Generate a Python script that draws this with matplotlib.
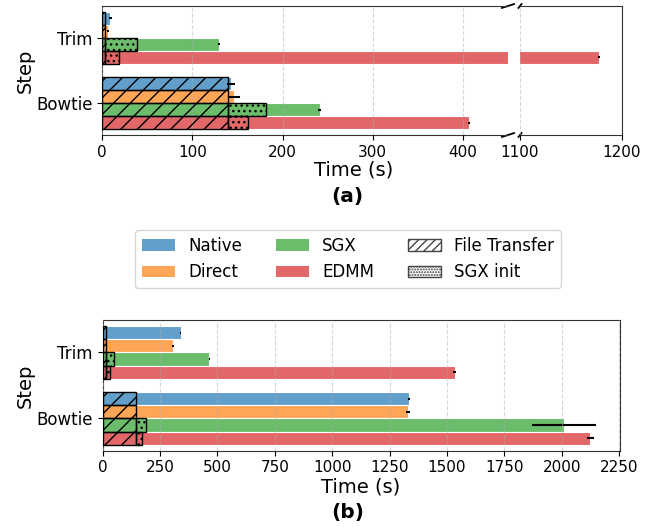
import matplotlib
matplotlib.use("Agg")
import matplotlib.pyplot as plt
from matplotlib.patches import Patch
from matplotlib.ticker import MultipleLocator
from matplotlib.colors import to_rgba

configs = ['Native', 'Direct', 'SGX', 'EDMM']
colors = ['#1f77b4', '#ff7f0e', '#2ca02c', '#d62728']
steps = ['Bowtie', 'Trim']

# Panel (a)
a_trim_total = [9, 6, 129, 1178]
a_trim_err = [1.5, 1, 1, 1]
a_trim_ft = [3.5, 3, 3, 3]
a_trim_init = [0, 0, 36, 16]
a_bowtie_total = [143, 146, 241, 407]
a_bowtie_err = [4.5, 7, 1.5, 1]
a_bowtie_ft = [139, 139, 139, 139]
a_bowtie_init = [0, 0, 42.5, 22.5]

# Panel (b)
b_trim_total = [340, 307, 464, 1533]
b_trim_err = [3, 3, 3, 5]
b_trim_ft = [14, 14, 13, 13]
b_trim_init = [0, 0, 38, 19]
b_bowtie_total = [1333, 1330, 2009, 2124]
b_bowtie_err = [5, 9, 140, 16]
b_bowtie_ft = [147, 147, 147, 147]
b_bowtie_init = [0, 0, 42, 23]

a_ticks_left = [0, 100, 200, 300, 400]
a_ticks_right = [1100, 1200]

offsets = [0.3, 0.1, -0.1, -0.3]
H = 0.2

W, Hh = 667, 527
fig = plt.figure(figsize=(6.67, 5.27), dpi=100)


def rect(x0, y_top, x1, y_bot):
    return [x0 / W, 1 - y_bot / Hh, (x1 - x0) / W, (y_bot - y_top) / Hh]


axL = fig.add_axes(rect(102.3, 6, 508, 135))
axR = fig.add_axes(rect(520, 6, 621.7, 135))
axB = fig.add_axes(rect(102.7, 320, 620.3, 450.7))


def draw(ax, data):
    for yi, (tot, err, ft, init) in enumerate(data):
        for i in range(len(configs)):
            y = yi + offsets[i]
            ax.barh(y, tot[i], height=H, color=to_rgba(colors[i], 0.7),
                    edgecolor='white', linewidth=0.8,
                    xerr=err[i], error_kw=dict(ecolor='black', elinewidth=1.5, capsize=0),
                    zorder=2)
            ax.barh(y, ft[i], height=H, fill=False, hatch='//',
                    edgecolor='black', linewidth=1.0, zorder=3)
            if init[i] > 0:
                ax.barh(y, init[i], left=ft[i], height=H, fill=False, hatch='...',
                        edgecolor='black', linewidth=1.0, zorder=3)


a_data = [(a_bowtie_total, a_bowtie_err, a_bowtie_ft, a_bowtie_init),
          (a_trim_total, a_trim_err, a_trim_ft, a_trim_init)]
b_data = [(b_bowtie_total, b_bowtie_err, b_bowtie_ft, b_bowtie_init),
          (b_trim_total, b_trim_err, b_trim_ft, b_trim_init)]

for ax in (axL, axR):
    draw(ax, a_data)
draw(axB, b_data)

axL.set_xlim(0, 450)
axR.set_xlim(1100, 1200)
axL.set_xticks(a_ticks_left)
axR.set_xticks(a_ticks_right)
axB.set_xlim(0, 2255)
axB.xaxis.set_major_locator(MultipleLocator(250))

for ax in (axL, axR, axB):
    ax.grid(axis='x', linestyle='--', color='#b0b0b0', alpha=0.5, linewidth=0.8)
    ax.set_axisbelow(False)
    ax.tick_params(axis='x', labelsize=11)
    ax.tick_params(axis='y', labelsize=12)
    for s in ax.spines.values():
        s.set_color('#333333')

ylim = axL.get_ylim()
axR.set_ylim(ylim)
for ax in (axL, axB):
    ax.set_yticks(range(len(steps)))
    ax.set_yticklabels(steps)

axR.set_yticks([])
axL.spines['right'].set_visible(False)
axR.spines['left'].set_visible(False)

d = 0.015
kw = dict(transform=axL.transAxes, color='k', clip_on=False, linewidth=1.3)
axL.plot((1 - d, 1 + d), (-d, +d), **kw)
axL.plot((1 - d, 1 + d), (1 - d, 1 + d), **kw)
kw.update(transform=axR.transAxes)
axR.plot((-d, +d), (-d, +d), **kw)
axR.plot((-d, +d), (1 - d, 1 + d), **kw)

fig.text(25 / W, 1 - 70.5 / Hh, 'Step', rotation=90, ha='center', va='center', fontsize=14)
fig.text(25 / W, 1 - 385.4 / Hh, 'Step', rotation=90, ha='center', va='center', fontsize=14)
fig.text(353.7 / W, 1 - 170 / Hh, 'Time (s)', ha='center', va='center', fontsize=14)
fig.text(347.4 / W, 1 - 196.7 / Hh, '(a)', ha='center', va='center', fontsize=14.5, fontweight='bold')
fig.text(361 / W, 1 - 486.7 / Hh, 'Time (s)', ha='center', va='center', fontsize=14)
fig.text(348 / W, 1 - 512.7 / Hh, '(b)', ha='center', va='center', fontsize=14.5, fontweight='bold')

handles = [Patch(facecolor=to_rgba(c, 0.7), edgecolor='none', label=n)
           for n, c in zip(configs, colors)]
handles.append(Patch(facecolor='white', edgecolor='#444444', hatch='////', label='File Transfer'))
handles.append(Patch(facecolor='white', edgecolor='#444444', hatch='......', label='SGX init'))
fig.legend(handles=handles, ncol=3, loc='center', bbox_to_anchor=(348 / W, 1 - 259 / Hh),
           fontsize=12)

fig.savefig('out.png', dpi=100)
